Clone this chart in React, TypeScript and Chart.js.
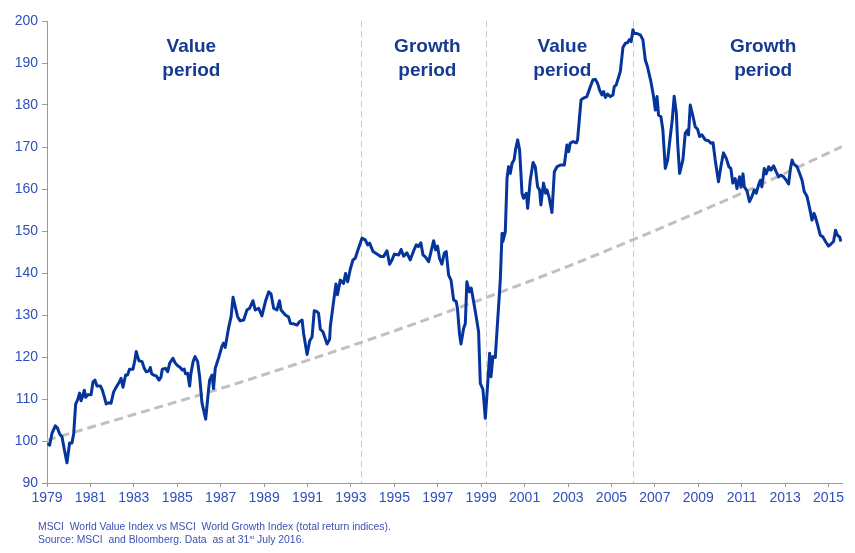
import React, { useEffect, useRef } from "react";
import { Chart, registerables } from "chart.js";

Chart.register(...registerables);

// Relative performance index (Value vs Growth), x = year position
const years = [
  1979.03, 1979.12, 1979.23, 1979.38, 1979.49, 1979.58, 1979.69, 1979.8, 1979.92, 1980.04,
  1980.15, 1980.23, 1980.32, 1980.41, 1980.5, 1980.57, 1980.63, 1980.72, 1980.78, 1980.87,
  1981.03, 1981.12, 1981.21, 1981.3, 1981.46, 1981.55, 1981.64, 1981.73, 1981.84, 1981.95,
  1982.07, 1982.22, 1982.34, 1982.41, 1982.5, 1982.62, 1982.71, 1982.8, 1982.96, 1983.05,
  1983.11, 1983.17, 1983.24, 1983.38, 1983.48, 1983.57, 1983.7, 1983.76, 1983.82, 1983.91,
  1984.03, 1984.16, 1984.25, 1984.31, 1984.46, 1984.56, 1984.65, 1984.8, 1984.9, 1985.02,
  1985.14, 1985.23, 1985.32, 1985.38, 1985.48, 1985.57, 1985.63, 1985.73, 1985.82, 1985.94,
  1986.03, 1986.14, 1986.31, 1986.44, 1986.49, 1986.6, 1986.67, 1986.75, 1986.9, 1987.06,
  1987.13, 1987.21, 1987.36, 1987.48, 1987.57, 1987.67, 1987.78, 1987.9, 1988.06, 1988.21,
  1988.33, 1988.49, 1988.59, 1988.75, 1988.9, 1989.06, 1989.21, 1989.32, 1989.44, 1989.59,
  1989.71, 1989.78, 1989.98, 1990.13, 1990.21, 1990.36, 1990.52, 1990.63, 1990.75, 1990.82,
  1990.98, 1991.1, 1991.21, 1991.31, 1991.44, 1991.51, 1991.59, 1991.71, 1991.9, 1992.02,
  1992.05, 1992.17, 1992.31, 1992.38, 1992.51, 1992.66, 1992.75, 1992.85, 1992.97, 1993.09,
  1993.2, 1993.31, 1993.51, 1993.66, 1993.77, 1993.86, 1994.02, 1994.2, 1994.38, 1994.5,
  1994.66, 1994.78, 1994.89, 1995.0, 1995.2, 1995.31, 1995.43, 1995.58, 1995.73, 1995.89,
  1996.01, 1996.11, 1996.22, 1996.32, 1996.42, 1996.58, 1996.69, 1996.81, 1996.9, 1996.99,
  1997.08, 1997.19, 1997.3, 1997.39, 1997.5, 1997.61, 1997.73, 1997.85, 1997.91, 1998.0,
  1998.07, 1998.19, 1998.27, 1998.34, 1998.46, 1998.54, 1998.65, 1998.77, 1998.88, 1998.96,
  1999.08, 1999.19, 1999.29, 1999.39, 1999.45, 1999.54, 1999.65, 1999.76, 1999.88, 1999.96,
  2000.0, 2000.11, 2000.19, 2000.26, 2000.34, 2000.42, 2000.52, 2000.58, 2000.68, 2000.77,
  2000.88, 2000.95, 2001.08, 2001.14, 2001.26, 2001.39, 2001.49, 2001.6, 2001.69, 2001.75,
  2001.87, 2001.97, 2002.03, 2002.12, 2002.26, 2002.37, 2002.49, 2002.64, 2002.83, 2002.95,
  2003.03, 2003.1, 2003.23, 2003.38, 2003.44, 2003.53, 2003.6, 2003.69, 2003.87, 2004.03,
  2004.15, 2004.26, 2004.36, 2004.45, 2004.56, 2004.64, 2004.72, 2004.82, 2004.95, 2005.07,
  2005.13, 2005.22, 2005.28, 2005.41, 2005.53, 2005.64, 2005.74, 2005.83, 2005.91, 2005.99,
  2006.05, 2006.18, 2006.33, 2006.45, 2006.56, 2006.66, 2006.82, 2006.94, 2007.02, 2007.1,
  2007.17, 2007.28, 2007.37, 2007.48, 2007.59, 2007.71, 2007.8, 2007.89, 2007.99, 2008.05,
  2008.14, 2008.29, 2008.4, 2008.5, 2008.55, 2008.63, 2008.76, 2008.86, 2008.97, 2009.06,
  2009.17, 2009.32, 2009.47, 2009.58, 2009.68, 2009.78, 2009.93, 2010.04, 2010.16, 2010.29,
  2010.41, 2010.5, 2010.59, 2010.7, 2010.78, 2010.9, 2010.97, 2011.06, 2011.12, 2011.24,
  2011.36, 2011.47, 2011.58, 2011.67, 2011.78, 2011.86, 2011.93, 2012.04, 2012.13, 2012.24,
  2012.35, 2012.47, 2012.59, 2012.7, 2012.81, 2012.93, 2013.05, 2013.16, 2013.24, 2013.32,
  2013.39, 2013.55, 2013.67, 2013.78, 2013.88, 2014.01, 2014.13, 2014.24, 2014.33, 2014.39,
  2014.5, 2014.62, 2014.74, 2014.86, 2015.0, 2015.11, 2015.23, 2015.32, 2015.41, 2015.51,
  2015.57,
];

const values = [
  99.5, 99.0, 101.8, 103.6, 103.0, 101.7, 101.0, 97.9, 94.8, 99.5,
  99.5, 101.8, 108.8, 109.8, 111.4, 109.6, 110.5, 112.1, 110.4, 111.0,
  111.0, 114.1, 114.5, 113.1, 113.1, 112.1, 110.5, 108.8, 109.1, 109.0,
  111.7, 113.1, 114.1, 114.9, 112.8, 115.7, 115.7, 117.1, 117.1, 119.3,
  121.3, 120.2, 119.1, 118.9, 117.3, 116.5, 116.7, 117.5, 116.0, 115.7,
  115.5, 114.5, 115.2, 117.1, 117.3, 116.5, 118.5, 119.7, 118.6, 117.9,
  117.5, 116.9, 117.1, 116.0, 116.1, 113.1, 116.1, 118.9, 120.1, 118.9,
  115.3, 109.0, 105.2, 112.1, 114.5, 115.7, 112.5, 117.3, 119.7, 122.6,
  123.3, 122.3, 126.8, 129.6, 134.2, 132.0, 129.6, 128.6, 128.8, 131.2,
  131.6, 133.4, 131.2, 131.6, 129.8, 133.2, 135.5, 135.0, 131.6, 131.2,
  133.4, 131.2, 130.0, 129.5, 128.0, 127.9, 127.6, 128.4, 128.8, 125.6,
  120.6, 123.8, 124.8, 131.0, 130.8, 130.4, 126.6, 126.0, 123.1, 124.2,
  127.2, 132.0, 137.4, 134.8, 138.3, 137.5, 139.9, 137.9, 140.9, 143.1,
  143.5, 145.3, 148.3, 147.9, 146.7, 147.1, 145.1, 144.5, 143.9, 143.9,
  145.3, 142.1, 143.1, 144.5, 144.3, 145.6, 144.0, 144.8, 143.1, 145.3,
  146.7, 146.3, 147.2, 144.3, 143.9, 142.7, 145.1, 147.7, 145.5, 146.4,
  143.5, 142.1, 144.7, 145.1, 139.5, 138.3, 133.6, 133.2, 131.4, 125.6,
  123.1, 126.8, 128.0, 137.9, 135.5, 136.4, 133.2, 129.6, 126.0, 113.7,
  112.3, 105.4, 112.9, 120.9, 115.3, 120.1, 119.9, 128.8, 138.3, 149.4,
  147.5, 149.8, 162.5, 165.3, 163.7, 166.1, 167.0, 169.3, 171.7, 169.3,
  159.0, 157.8, 159.0, 155.4, 162.1, 166.3, 165.3, 160.5, 159.8, 156.2,
  161.4, 159.0, 159.8, 158.2, 154.4, 164.1, 165.3, 165.7, 165.7, 170.5,
  168.9, 170.9, 171.3, 171.0, 171.7, 177.2, 181.2, 181.6, 182.0, 184.4,
  186.0, 186.1, 185.2, 183.6, 182.4, 183.2, 181.8, 182.6, 182.0, 182.4,
  184.4, 184.8, 185.8, 188.0, 193.7, 194.7, 194.8, 195.6, 195.1, 197.9,
  197.0, 197.0, 196.7, 195.5, 190.7, 189.1, 185.5, 182.0, 178.8, 182.0,
  177.6, 177.2, 174.0, 164.9, 166.9, 172.5, 176.4, 182.1, 178.0, 170.9,
  163.7, 166.9, 173.3, 174.0, 172.9, 180.0, 177.2, 174.8, 174.2, 172.5,
  172.9, 171.7, 171.5, 170.9, 171.0, 166.9, 161.7, 165.3, 168.6, 167.3,
  165.3, 164.9, 161.4, 162.5, 160.1, 162.9, 160.4, 163.6, 160.5, 159.6,
  157.0, 158.2, 159.8, 159.0, 161.0, 162.1, 160.5, 164.9, 163.6, 165.3,
  164.5, 165.5, 164.1, 162.9, 163.3, 162.9, 162.1, 161.2, 164.7, 166.9,
  166.0, 165.3, 163.7, 162.1, 159.4, 158.2, 155.4, 152.6, 154.2, 153.4,
  151.4, 149.0, 148.6, 147.5, 146.4, 146.9, 147.5, 150.2, 149.0, 148.6,
  147.5,
];

// Dashed grey trend line
const trendYears = [1979.0, 1983.0, 1987.0, 1991.0, 1995.0, 1999.2, 2003.0, 2007.0, 2011.0, 2015.62];
const trendValues = [100.2, 106.3, 112.5, 119.2, 126.2, 134.1, 141.6, 150.1, 159.0, 170.1];

// Period boundaries (vertical dashed lines)
const boundaryYears = [1993.45, 1999.2, 2006.0];

// Period annotations
const periodNames = ["Value", "Growth", "Value", "Growth"];
const periodYears = [1985.65, 1996.52, 2002.74, 2011.99];
const periodLineValues = [193.8, 188.2];

const xTickYears = [1979, 1981, 1983, 1985, 1987, 1989, 1991, 1993, 1995, 1997, 1999, 2001, 2003, 2005, 2007, 2009, 2011, 2013, 2015];
const xMin = 1979;
const xMax = 2015.62;
const yMin = 90;
const yMax = 200;
const yStep = 10;

const FONT = "'Liberation Sans', Arial, Helvetica, sans-serif";
const TICK_COLOR = "#2d50bd";
const LINE_COLOR = "#05349c";
const LABEL_COLOR = "#163a94";
const AXIS_COLOR = "#9a9a9a";

const overlayPlugin = {
  id: "overlay",
  beforeDatasetsDraw(chart: any) {
    const { ctx, chartArea, scales } = chart;
    ctx.save();
    ctx.strokeStyle = "#c8c8c8";
    ctx.lineWidth = 1;
    ctx.setLineDash([6, 4]);
    boundaryYears.forEach((yr) => {
      const x = Math.round(scales.x.getPixelForValue(yr)) + 0.5;
      ctx.beginPath();
      ctx.moveTo(x, chartArea.top);
      ctx.lineTo(x, chartArea.bottom);
      ctx.stroke();
    });
    ctx.restore();
  },
  afterDatasetsDraw(chart: any) {
    const { ctx, scales } = chart;
    ctx.save();
    ctx.fillStyle = LABEL_COLOR;
    ctx.font = `bold 19px ${FONT}`;
    ctx.textAlign = "center";
    ctx.textBaseline = "middle";
    periodNames.forEach((name, i) => {
      const x = scales.x.getPixelForValue(periodYears[i]);
      ctx.fillText(name, x, scales.y.getPixelForValue(periodLineValues[0]));
      ctx.fillText("period", x, scales.y.getPixelForValue(periodLineValues[1]));
    });
    ctx.restore();
  },
};

export default function App() {
  const canvasRef = useRef<HTMLCanvasElement | null>(null);

  useEffect(() => {
    const canvas = canvasRef.current;
    if (!canvas) return;
    const chart = new Chart(canvas, {
      type: "line",
      data: {
        datasets: [
          {
            label: "Value vs Growth",
            data: years.map((x, i) => ({ x, y: values[i] })),
            borderColor: LINE_COLOR,
            borderWidth: 3,
            pointRadius: 0,
            tension: 0,
            borderJoinStyle: "round",
            fill: false,
          },
          {
            label: "Trend",
            data: trendYears.map((x, i) => ({ x, y: trendValues[i] })),
            borderColor: "#c0c0c0",
            borderWidth: 3,
            borderDash: [9, 5],
            pointRadius: 0,
            cubicInterpolationMode: "monotone",
            fill: false,
          },
        ],
      },
      options: {
        responsive: false,
        animation: false,
        maintainAspectRatio: false,
        layout: { padding: { left: 0, right: 13, top: 21, bottom: 0 } },
        plugins: {
          legend: { display: false },
          tooltip: { enabled: false },
          title: { display: false },
        },
        scales: {
          x: {
            type: "linear",
            min: xMin,
            max: xMax,
            afterBuildTicks: (scale: any) => {
              scale.ticks = xTickYears.map((v) => ({ value: v }));
            },
            afterFit: (scale: any) => {
              scale.height = 70;
            },
            ticks: {
              autoSkip: false,
              maxRotation: 0,
              padding: 3,
              color: TICK_COLOR,
              font: { family: FONT, size: 14 },
              callback: (v: any) => String(v),
            },
            grid: {
              display: true,
              drawOnChartArea: false,
              drawTicks: true,
              tickLength: 4,
              color: AXIS_COLOR,
            },
            border: { display: true, color: AXIS_COLOR, width: 1 },
          },
          y: {
            type: "linear",
            min: yMin,
            max: yMax,
            afterFit: (scale: any) => {
              scale.width = 47;
            },
            ticks: {
              stepSize: yStep,
              padding: 4,
              color: TICK_COLOR,
              font: { family: FONT, size: 14 },
            },
            grid: {
              display: true,
              drawOnChartArea: false,
              drawTicks: true,
              tickLength: 5,
              color: AXIS_COLOR,
            },
            border: { display: true, color: AXIS_COLOR, width: 1 },
          },
        },
      },
      plugins: [overlayPlugin],
    } as any);
    return () => chart.destroy();
  }, []);

  return (
    <div style={{ position: "absolute", left: 0, top: 0, width: 855, height: 553, background: "#fff" }}>
      <canvas ref={canvasRef} width={855} height={553} style={{ display: "block", width: 855, height: 553 }} />
      <div
        style={{
          position: "absolute",
          left: 38,
          top: 520,
          fontFamily: FONT,
          fontSize: "10.4px",
          lineHeight: "13.4px",
          color: "#3a52b4",
          whiteSpace: "pre",
        }}
      >
        <div>MSCI  World Value Index vs MSCI  World Growth Index (total return indices).</div>
        <div>
          Source: MSCI  and Bloomberg. Data  as at 31
          <sup style={{ fontSize: "6px", lineHeight: 0, verticalAlign: "4px" }}>st</sup> July 2016.
        </div>
      </div>
    </div>
  );
}
